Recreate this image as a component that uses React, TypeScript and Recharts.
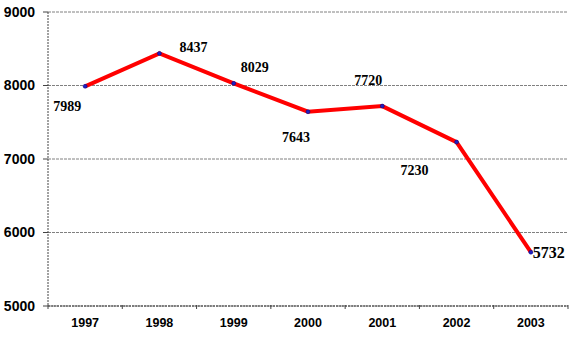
import React from 'react';
import { LineChart, Line, XAxis, YAxis, CartesianGrid } from 'recharts';

const years = ['1997', '1998', '1999', '2000', '2001', '2002', '2003'];
const values = [7989, 8437, 8029, 7643, 7720, 7230, 5732];
const yTicks = [5000, 6000, 7000, 8000, 9000];

const data = years.map((y, i) => ({ year: y, value: values[i] }));

const W = 570;
const H = 357;
const MARGIN = { top: 12, right: 2, bottom: 21, left: 0 };
const YW = 48;
const XH = 30;
const plotW = W - MARGIN.left - MARGIN.right - YW;
const band = plotW / years.length;

// label placement relative to each point (dx, dy) and font size
const labelOffsets: [number, number, number][] = [
  [-18, 20, 14],
  [34, -6, 14],
  [21, -16, 14],
  [-12, 26, 14],
  [-14, -26, 14],
  [-42, 28, 14],
  [18, 0, 16],
];

const XTick = (props: any) => {
  const { x, y, payload, index } = props;
  const left = x - band / 2;
  return (
    <g>
      <line x1={left} y1={y - 9} x2={left} y2={y - 5} stroke="#444" />
      {index === years.length - 1 && (
        <line x1={x + band / 2} y1={y - 9} x2={x + band / 2} y2={y - 5} stroke="#444" />
      )}
      <text
        x={x}
        y={y + 13}
        textAnchor="middle"
        fontFamily="Arial, 'Liberation Sans', sans-serif"
        fontWeight="bold"
        fontSize={12.5}
        fill="#000"
      >
        {payload.value}
      </text>
    </g>
  );
};

const PointLabel = (props: any) => {
  const { x, y, index, value } = props;
  const [dx, dy, fs] = labelOffsets[index] || [0, -10, 14];
  return (
    <text
      x={x + dx}
      y={y + dy}
      textAnchor="middle"
      dominantBaseline="central"
      fontFamily="'Times New Roman', 'Liberation Serif', serif"
      fontWeight="bold"
      fontSize={fs}
      fill="#000"
    >
      {value}
    </text>
  );
};

export default function App() {
  return (
    <div style={{ position: 'absolute', left: 0, top: 0, background: '#fff' }}>
      <LineChart width={W} height={H} data={data} margin={MARGIN}>
        <CartesianGrid vertical={false} stroke="#808080" strokeDasharray="3 1" />
        <XAxis
          dataKey="year"
          height={XH}
          padding={{ left: band / 2, right: band / 2 }}
          tickLine={false}
          axisLine={{ stroke: '#666', strokeDasharray: '2 1', strokeWidth: 1.5 }}
          tick={<XTick />}
          interval={0}
        />
        <YAxis
          width={YW}
          domain={[5000, 9000]}
          ticks={yTicks}
          tickSize={5}
          tickMargin={8}
          tickLine={{ stroke: '#444' }}
          axisLine={{ stroke: '#444', strokeDasharray: '2 1' }}
          tick={{
            fontFamily: "Arial, 'Liberation Sans', sans-serif",
            fontWeight: 'bold',
            fontSize: 14,
            fill: '#000',
          }}
        />
        <Line
          type="linear"
          dataKey="value"
          stroke="#ff0000"
          strokeWidth={4}
          dot={{ r: 2, fill: '#2020c0', stroke: '#000080', strokeWidth: 0.5 }}
          isAnimationActive={false}
          label={<PointLabel />}
        />
      </LineChart>
    </div>
  );
}
